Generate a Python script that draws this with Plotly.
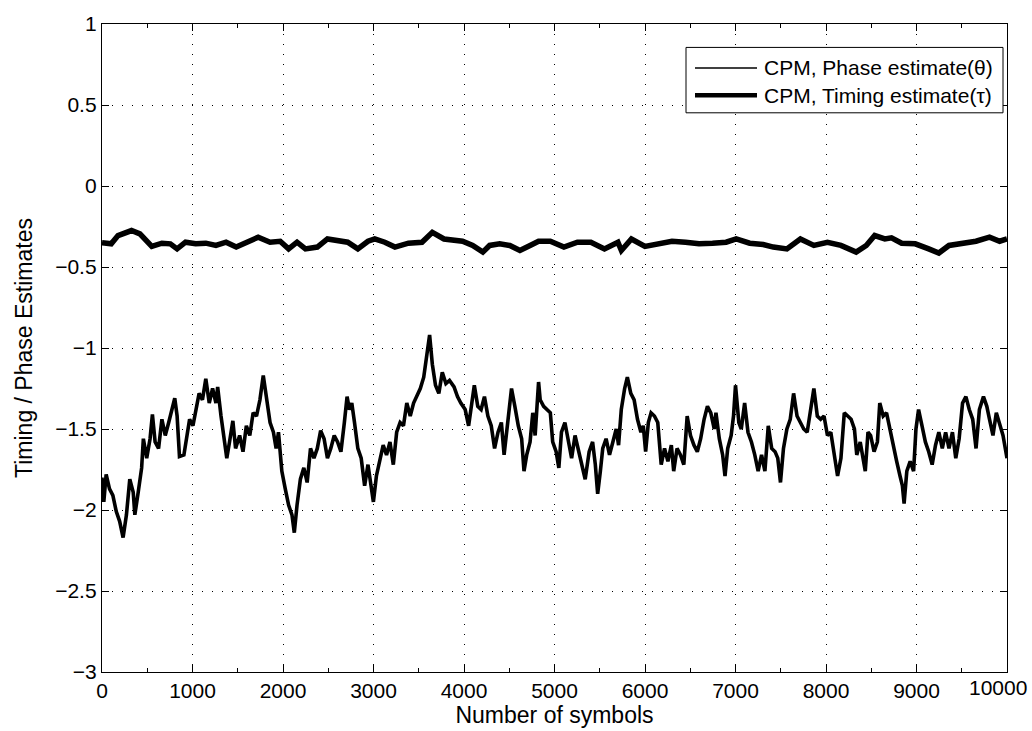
import plotly.graph_objects as go

# ---------------- data ----------------
phase_x = [0, 20, 46, 83, 120, 158, 195, 233, 270, 307, 345, 363, 400, 438, 457, 494, 531, 557, 587, 625,
           662, 699, 737, 774, 804, 830, 856, 905, 942, 968, 1005, 1035, 1073, 1110, 1147, 1185, 1222, 1259, 1278, 1315,
           1352, 1379, 1409, 1446, 1476, 1521, 1558, 1595, 1633, 1670, 1707, 1745, 1782, 1819, 1857, 1894, 1924, 1950, 1987, 2025,
           2062, 2099, 2125, 2155, 2192, 2230, 2267, 2304, 2342, 2379, 2416, 2454, 2491, 2528, 2566, 2603, 2640, 2678, 2708, 2734,
           2760, 2790, 2827, 2864, 2902, 2939, 2969, 2999, 3032, 3070, 3107, 3144, 3182, 3219, 3256, 3294, 3331, 3368, 3406, 3443,
           3480, 3517, 3555, 3590, 3620, 3650, 3685, 3722, 3760, 3800, 3840, 3890, 3928, 3965, 4013, 4051, 4077, 4114, 4152, 4189,
           4226, 4264, 4301, 4338, 4376, 4413, 4443, 4469, 4506, 4525, 4562, 4600, 4637, 4663, 4693, 4730, 4760, 4786, 4824, 4842,
           4880, 4917, 4954, 4980, 5018, 5048, 5077, 5115, 5152, 5189, 5227, 5271, 5309, 5339, 5383, 5421, 5451, 5477, 5507, 5533,
           5570, 5608, 5645, 5682, 5708, 5738, 5775, 5805, 5843, 5880, 5917, 5955, 5981, 6007, 6037, 6067, 6104, 6141, 6179, 6216,
           6253, 6291, 6317, 6354, 6392, 6429, 6466, 6503, 6541, 6578, 6615, 6653, 6690, 6727, 6765, 6784, 6821, 6858, 6884, 6914,
           6952, 6978, 7000, 7037, 7064, 7101, 7138, 7176, 7213, 7250, 7288, 7325, 7362, 7400, 7437, 7467, 7497, 7530, 7568, 7605,
           7642, 7680, 7717, 7754, 7792, 7829, 7866, 7904, 7941, 7978, 8016, 8053, 8090, 8128, 8165, 8202, 8240, 8277, 8314, 8340,
           8378, 8408, 8434, 8464, 8493, 8531, 8568, 8594, 8632, 8669, 8706, 8743, 8781, 8818, 8844, 8863, 8893, 8930, 8968, 8994,
           9023, 9061, 9098, 9135, 9173, 9210, 9247, 9285, 9322, 9359, 9397, 9434, 9471, 9509, 9546, 9583, 9621, 9658, 9695, 9740,
           9777, 9807, 9845, 9882, 9919, 9956, 10000]
phase_y = [-1.80, -1.95, -1.78, -1.87, -1.91, -2.01, -2.07, -2.17, -2.03, -1.81, -1.89, -2.03, -1.89, -1.74, -1.56, -1.68, -1.56, -1.41, -1.58, -1.62,
           -1.44, -1.54, -1.46, -1.38, -1.31, -1.42, -1.67, -1.66, -1.52, -1.44, -1.48, -1.38, -1.28, -1.32, -1.19, -1.34, -1.25, -1.34, -1.24, -1.42,
           -1.56, -1.68, -1.58, -1.45, -1.62, -1.54, -1.64, -1.48, -1.54, -1.40, -1.42, -1.32, -1.17, -1.30, -1.46, -1.52, -1.62, -1.52, -1.76, -1.87,
           -1.97, -2.03, -2.14, -1.97, -1.81, -1.74, -1.83, -1.62, -1.68, -1.62, -1.51, -1.56, -1.68, -1.62, -1.54, -1.58, -1.64, -1.46, -1.30, -1.38,
           -1.34, -1.46, -1.62, -1.68, -1.85, -1.72, -1.83, -1.95, -1.79, -1.68, -1.60, -1.66, -1.58, -1.72, -1.52, -1.46, -1.48, -1.34, -1.42, -1.34,
           -1.30, -1.25, -1.18, -1.05, -0.92, -1.10, -1.23, -1.28, -1.15, -1.22, -1.20, -1.24, -1.30, -1.34, -1.38, -1.48, -1.38, -1.23, -1.36, -1.38,
           -1.30, -1.42, -1.48, -1.62, -1.52, -1.46, -1.66, -1.54, -1.38, -1.25, -1.36, -1.48, -1.56, -1.76, -1.66, -1.58, -1.40, -1.54, -1.21, -1.32,
           -1.36, -1.38, -1.40, -1.58, -1.64, -1.74, -1.52, -1.46, -1.58, -1.68, -1.54, -1.64, -1.72, -1.81, -1.64, -1.58, -1.72, -1.90, -1.76, -1.62,
           -1.56, -1.66, -1.58, -1.50, -1.60, -1.38, -1.25, -1.18, -1.28, -1.32, -1.44, -1.52, -1.48, -1.64, -1.46, -1.40, -1.42, -1.46, -1.72, -1.62,
           -1.70, -1.60, -1.76, -1.62, -1.66, -1.72, -1.42, -1.54, -1.60, -1.64, -1.56, -1.44, -1.36, -1.40, -1.50, -1.40, -1.56, -1.66, -1.79, -1.62,
           -1.54, -1.42, -1.23, -1.46, -1.50, -1.34, -1.52, -1.58, -1.66, -1.76, -1.66, -1.76, -1.48, -1.62, -1.64, -1.68, -1.83, -1.62, -1.50, -1.44,
           -1.28, -1.42, -1.46, -1.50, -1.52, -1.38, -1.25, -1.42, -1.44, -1.42, -1.54, -1.52, -1.66, -1.79, -1.68, -1.40, -1.42, -1.44, -1.50, -1.66,
           -1.58, -1.68, -1.76, -1.52, -1.54, -1.64, -1.58, -1.34, -1.42, -1.40, -1.50, -1.62, -1.70, -1.79, -1.85, -1.96, -1.76, -1.70, -1.76, -1.50,
           -1.38, -1.48, -1.58, -1.64, -1.72, -1.60, -1.52, -1.62, -1.52, -1.62, -1.52, -1.68, -1.56, -1.34, -1.30, -1.38, -1.44, -1.62, -1.38, -1.30,
           -1.36, -1.44, -1.54, -1.40, -1.48, -1.54, -1.68]

timing_x = [0, 102, 177, 251, 326, 419, 494, 550, 662, 755, 830, 923, 1035, 1147, 1259, 1371, 1483, 1595, 1726, 1857,
            1969, 2062, 2155, 2248, 2379, 2491, 2603, 2715, 2827, 2939, 3014, 3125, 3237, 3386, 3536, 3650, 3779, 3872, 3984, 4096,
            4208, 4283, 4394, 4506, 4618, 4730, 4824, 4954, 5104, 5253, 5402, 5552, 5701, 5739, 5850, 6000, 6149, 6298, 6448, 6597,
            6746, 6896, 7008, 7157, 7306, 7418, 7568, 7717, 7866, 8016, 8165, 8333, 8445, 8538, 8650, 8724, 8836, 8986, 9135, 9247,
            9359, 9508, 9657, 9807, 9919, 10000]
timing_y = [-0.35, -0.357, -0.306, -0.292, -0.275, -0.296, -0.347, -0.373, -0.353, -0.357, -0.388, -0.347, -0.357, -0.353, -0.367, -0.347, -0.377, -0.347, -0.316, -0.347,
            -0.341, -0.388, -0.347, -0.388, -0.377, -0.327, -0.333, -0.347, -0.388, -0.341, -0.327, -0.347, -0.377, -0.353, -0.347, -0.286, -0.327, -0.337, -0.341, -0.367,
            -0.408, -0.367, -0.357, -0.367, -0.398, -0.367, -0.341, -0.341, -0.377, -0.347, -0.347, -0.388, -0.347, -0.398, -0.327, -0.373, -0.357, -0.341, -0.347, -0.357,
            -0.353, -0.347, -0.327, -0.353, -0.361, -0.377, -0.388, -0.327, -0.367, -0.347, -0.367, -0.408, -0.367, -0.306, -0.327, -0.320, -0.353, -0.357, -0.388, -0.414,
            -0.367, -0.357, -0.341, -0.316, -0.341, -0.327]

x_tickvals = [0, 1000, 2000, 3000, 4000, 5000, 6000, 7000, 8000, 9000]
x_last_label = "10000"

phase_name = "CPM, Phase estimate(θ)"
timing_name = "CPM, Timing estimate(τ)"
x_title = "Number of symbols"
y_title = "Timing / Phase Estimates"

FONT = "Liberation Sans, Arial, Helvetica, sans-serif"

# plot-area geometry (pixels)
W, H = 1032, 731
L, R, T, B = 102, 25, 17, 50
PW, PH = W - L - R, H - T - B


def px(xp):
    return (xp - L) / PW


def py(yp):
    return 1 - (yp - T) / PH


fig = go.Figure()
fig.add_trace(go.Scatter(x=phase_x, y=phase_y, mode="lines", name=phase_name, showlegend=False,
                         line=dict(color="black", width=3.6)))
fig.add_trace(go.Scatter(x=timing_x, y=timing_y, mode="lines", name=timing_name, showlegend=False,
                         line=dict(color="black", width=5.5)))

axis_common = dict(
    showline=True, linecolor="black", linewidth=1.3, mirror="allticks",
    ticks="inside", ticklen=7, tickcolor="black", tickwidth=1,
    showgrid=True, gridcolor="black", gridwidth=1, griddash="1px,9px",
    zeroline=False, tickfont=dict(family=FONT, size=21, color="black"),
)

fig.update_xaxes(range=[0, 10000], tickmode="array", tickvals=x_tickvals, tickformat="d",
                 title=dict(text=x_title, font=dict(family=FONT, size=23, color="black"), standoff=1),
                 minor=dict(dtick=500, tick0=0, ticks="inside", ticklen=4, tickcolor="black", showgrid=False),
                 **axis_common)
fig.update_yaxes(range=[-3, 1], dtick=0.5, tick0=0,
                 title=dict(text=y_title, font=dict(family=FONT, size=23, color="black"), standoff=16),
                 **axis_common)

# legend drawn as a box with line samples and text (MATLAB style)
shapes = [
    dict(type="rect", xref="paper", yref="paper", x0=px(686), x1=px(1003), y0=py(108), y1=py(41),
         line=dict(color="black", width=1), fillcolor="white", layer="above"),
    dict(type="line", xref="paper", yref="paper", x0=px(695), x1=px(757), y0=py(62), y1=py(62),
         line=dict(color="black", width=1.5), layer="above"),
    dict(type="line", xref="paper", yref="paper", x0=px(695), x1=px(757), y0=py(90), y1=py(90),
         line=dict(color="black", width=4.5), layer="above"),
]
annotations = [
    dict(xref="paper", yref="paper", x=px(762), y=py(62), xanchor="left", yanchor="middle",
         text=phase_name, showarrow=False, font=dict(family=FONT, size=21, color="black")),
    dict(xref="paper", yref="paper", x=px(762), y=py(90), xanchor="left", yanchor="middle",
         text=timing_name, showarrow=False, font=dict(family=FONT, size=21, color="black")),
    # last x tick label, shifted left so it stays inside the figure
    dict(xref="paper", yref="paper", x=px(1029), y=py(H - B + 2), xanchor="right", yanchor="top",
         text=x_last_label, showarrow=False, font=dict(family=FONT, size=21, color="black")),
]

fig.update_layout(
    width=W, height=H,
    margin=dict(l=L, r=R, t=T, b=B),
    paper_bgcolor="white", plot_bgcolor="white",
    font=dict(family=FONT, color="black"),
    showlegend=False,
    shapes=shapes, annotations=annotations,
)

fig.write_html("out.html")
